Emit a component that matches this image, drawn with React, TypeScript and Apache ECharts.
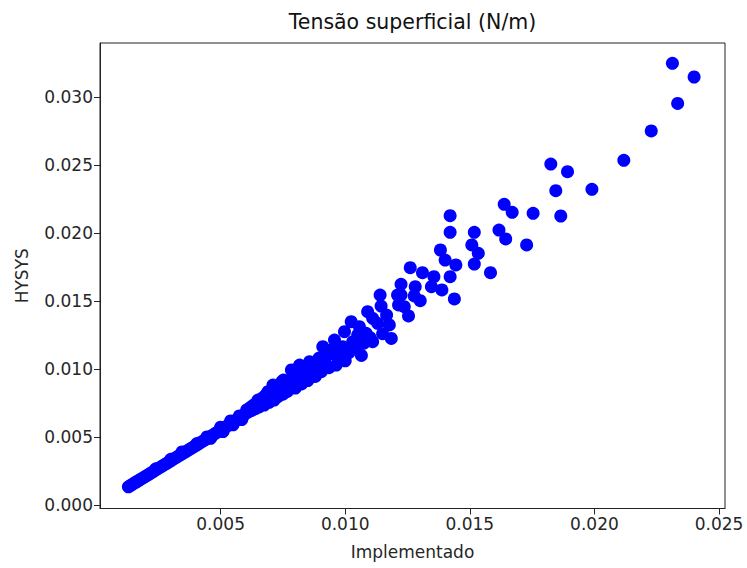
import React, { useEffect, useRef } from "react";
import * as echarts from "echarts";

const title = "Tensão superficial (N/m)";
const xName = "Implementado";
const yName = "HYSYS";

const xTicks = [0.005, 0.01, 0.015, 0.02, 0.025];
const yTicks = [0, 0.005, 0.01, 0.015, 0.02, 0.025, 0.03];

// Implementado (x) values
const implementado = [
  0.0013, 0.00138, 0.00146, 0.00155, 0.00163, 0.00172, 0.0018, 0.0019, 0.002, 0.0021,
  0.0022, 0.0023, 0.0024, 0.0025, 0.00262, 0.00272, 0.00282, 0.00292, 0.00302, 0.00312,
  0.00322, 0.00332, 0.00342, 0.00352, 0.00362, 0.00372, 0.00382, 0.00392, 0.00402, 0.00412,
  0.00422, 0.00432, 0.00442, 0.00452, 0.00462, 0.00472, 0.00482, 0.00492, 0.00502, 0.00512,
  0.00522, 0.00532, 0.00542, 0.00552, 0.00562, 0.00572, 0.00582, 0.00592,
  0.0024, 0.003, 0.00345, 0.00405, 0.00445, 0.0046, 0.005, 0.0051, 0.0054, 0.0055, 0.00575, 0.00585,
  0.006, 0.00605, 0.00612, 0.0062, 0.00625, 0.00632, 0.0064, 0.00645, 0.0065, 0.00655,
  0.00662, 0.0067, 0.00675, 0.00682, 0.0069, 0.00695, 0.007, 0.0071, 0.0071, 0.00715,
  0.00722, 0.0073, 0.00735, 0.00745, 0.0075, 0.00752, 0.0076, 0.00768, 0.00775, 0.00784,
  0.00784, 0.0079, 0.008, 0.00805, 0.00812, 0.00817, 0.00817, 0.00825, 0.00835, 0.00845,
  0.0085, 0.00857, 0.00865, 0.00872, 0.0088, 0.0089, 0.00895, 0.00904, 0.0091, 0.00918,
  0.0093, 0.00935, 0.00945, 0.00957, 0.00964, 0.0097, 0.0098, 0.0099, 0.00997, 0.01,
  0.01015, 0.01024, 0.0103, 0.01044, 0.0105, 0.01057, 0.01065, 0.01075, 0.01084, 0.0109,
  0.011, 0.0111, 0.0111, 0.0113, 0.0114, 0.01144, 0.0115, 0.01166, 0.01177, 0.01185,
  0.0121, 0.01214, 0.01224, 0.01224, 0.01237, 0.01254, 0.01261, 0.01277, 0.01281, 0.01301,
  0.0131, 0.01346, 0.01356, 0.01382, 0.01388, 0.01401, 0.01421, 0.01421, 0.01421, 0.01438,
  0.01444, 0.01508, 0.01518, 0.01518, 0.01534, 0.01583, 0.01617, 0.01638, 0.01644, 0.0167,
  0.01728, 0.01754, 0.01825, 0.01845, 0.01865, 0.01892, 0.0199, 0.02118, 0.02228, 0.02313,
  0.02334, 0.024,
];

// HYSYS (y) values
const hysys = [
  0.00134, 0.00143, 0.00152, 0.00162, 0.00171, 0.00181, 0.0019, 0.00201, 0.00212, 0.00223,
  0.00235, 0.00246, 0.00258, 0.00269, 0.00283, 0.00294, 0.00305, 0.00316, 0.00327, 0.00339,
  0.0035, 0.00361, 0.00372, 0.00383, 0.00394, 0.00406, 0.00417, 0.00428, 0.00439, 0.0045,
  0.00462, 0.00473, 0.00484, 0.00496, 0.00507, 0.00518, 0.0053, 0.00541, 0.00552, 0.00564,
  0.00576, 0.00588, 0.006, 0.00612, 0.00624, 0.00636, 0.00648, 0.0066,
  0.00266, 0.00336, 0.0039, 0.00452, 0.005, 0.0049, 0.00572, 0.0054, 0.00618, 0.0059, 0.00655, 0.00628,
  0.00672, 0.007, 0.00685, 0.00718, 0.00695, 0.00735, 0.00708, 0.0075, 0.00772, 0.00722,
  0.0076, 0.0079, 0.00735, 0.0081, 0.00833, 0.00755, 0.008, 0.0085, 0.00882, 0.00772,
  0.0083, 0.00796, 0.0087, 0.00905, 0.00815, 0.00919, 0.0086, 0.00835, 0.009, 0.0087,
  0.00993, 0.0095, 0.0086, 0.0092, 0.00975, 0.01029, 0.00943, 0.0089, 0.0096, 0.01,
  0.00915, 0.01054, 0.00975, 0.0103, 0.00945, 0.0101, 0.0108, 0.0098, 0.01164, 0.0106,
  0.01103, 0.0101, 0.0114, 0.01213, 0.01029, 0.0109, 0.0115, 0.01164, 0.01274, 0.0106,
  0.0112, 0.01348, 0.012, 0.01152, 0.0125, 0.01311, 0.011, 0.0119, 0.01262, 0.01421,
  0.0123, 0.01201, 0.01373, 0.01336, 0.01544, 0.01463, 0.0126, 0.01397, 0.01324, 0.01225,
  0.01544, 0.01471, 0.01623, 0.01544, 0.01458, 0.0139, 0.01745, 0.01537, 0.01605, 0.01502,
  0.01708, 0.01605, 0.01679, 0.01875, 0.01581, 0.01801, 0.02127, 0.02005, 0.01679, 0.01515,
  0.01765, 0.01912, 0.02005, 0.01772, 0.01851, 0.01708, 0.02022, 0.02211, 0.01956, 0.02152,
  0.01912, 0.02145, 0.02507, 0.02311, 0.02125, 0.02451, 0.02321, 0.02534, 0.0275, 0.03248,
  0.02953, 0.03147,
];

const FONT = "'DejaVu Sans', sans-serif";

export default function App() {
  const ref = useRef<HTMLDivElement>(null);

  useEffect(() => {
    if (!ref.current) return;
    const chart = echarts.init(ref.current, undefined, { renderer: "svg" });
    const n = Math.min(implementado.length, hysys.length);
    const data: number[][] = [];
    for (let i = 0; i < n; i++) data.push([implementado[i], hysys[i]]);

    const gridLeft = 100;
    const gridTop = 43;
    const gridW = 625;
    const gridH = 465.5;

    chart.setOption({
      animation: false,
      backgroundColor: "#ffffff",
      grid: {
        left: gridLeft,
        top: gridTop,
        width: gridW,
        height: gridH,
        show: true,
        borderColor: "#222",
        borderWidth: 1,
        backgroundColor: "transparent",
      },
      xAxis: {
        type: "value",
        min: 0.00016,
        max: 0.02524,
        splitLine: { show: false },
        axisLine: { show: true, onZero: false, lineStyle: { color: "#222", width: 1 } },
        axisTick: {
          show: true,
          length: 6,
          customValues: xTicks,
          lineStyle: { color: "#222", width: 1 },
        },
        axisLabel: {
          customValues: xTicks,
          formatter: (v: number) => v.toFixed(3),
          fontSize: 17,
          fontFamily: FONT,
          color: "#262626",
          margin: 7,
        },
      },
      yAxis: {
        type: "value",
        min: -0.000257,
        max: 0.03397,
        splitLine: { show: false },
        axisLine: { show: true, onZero: false, lineStyle: { color: "#222", width: 1 } },
        axisTick: {
          show: true,
          length: 6,
          customValues: yTicks,
          lineStyle: { color: "#222", width: 1 },
        },
        axisLabel: {
          customValues: yTicks,
          formatter: (v: number) => v.toFixed(3),
          fontSize: 17,
          fontFamily: FONT,
          color: "#262626",
          margin: 7,
        },
      },
      series: [
        {
          type: "scatter",
          data,
          symbol: "circle",
          symbolSize: 13,
          itemStyle: { color: "#0000ff", opacity: 1 },
          emphasis: { disabled: true },
        },
      ],
      graphic: [
        {
          type: "text",
          x: gridLeft + gridW / 2,
          y: 22,
          style: {
            text: title,
            font: `20.5px ${FONT}`,
            fill: "#111",
            textAlign: "center",
            textVerticalAlign: "middle",
          },
        },
        {
          type: "text",
          x: gridLeft + gridW / 2,
          y: 552,
          style: {
            text: xName,
            font: `17px ${FONT}`,
            fill: "#262626",
            textAlign: "center",
            textVerticalAlign: "middle",
          },
        },
        {
          type: "text",
          x: 22,
          y: gridTop + gridH / 2,
          rotation: Math.PI / 2,
          style: {
            text: yName,
            font: `17px ${FONT}`,
            fill: "#262626",
            textAlign: "center",
            textVerticalAlign: "middle",
          },
        },
      ],
    });
    return () => chart.dispose();
  }, []);

  return (
    <div
      ref={ref}
      style={{ position: "absolute", left: 0, top: 0, width: 747, height: 568 }}
    />
  );
}
